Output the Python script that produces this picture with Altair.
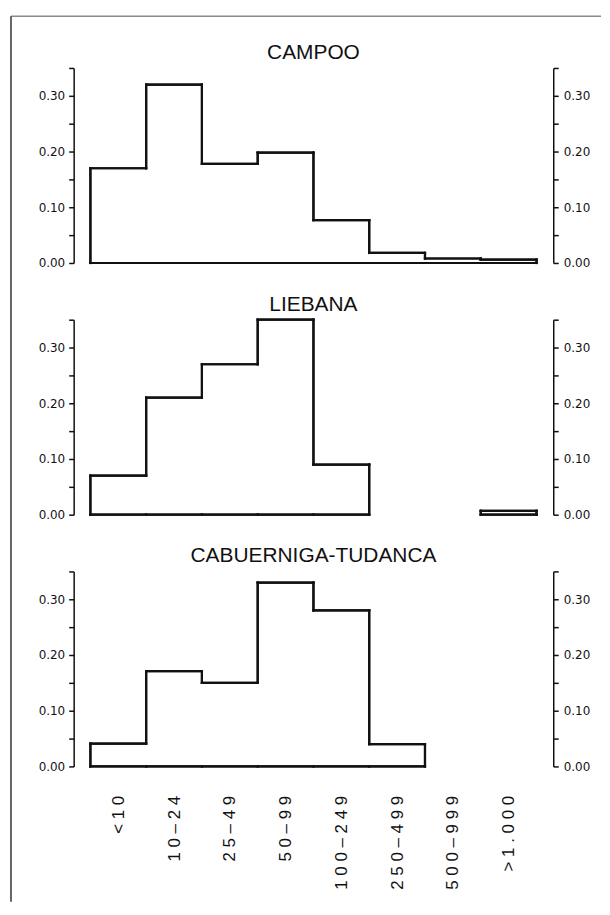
import json
import altair as alt
import pandas as pd

# ---- data ----
categories = ["<10", "10–24", "25–49", "50–99", "100–249", "250–499", "500–999", ">1.000"]
campoo = [0.17, 0.32, 0.178, 0.198, 0.077, 0.018, 0.008, 0.006]
liebana = [0.07, 0.21, 0.27, 0.35, 0.09, 0.0, 0.0, 0.007]
cabuerniga = [0.041, 0.171, 0.15, 0.33, 0.28, 0.04, 0.0, 0.0]
panel_titles = ["CAMPOO", "LIEBANA", "CABUERNIGA-TUDANCA"]
y_ticks = [0.0, 0.05, 0.10, 0.15, 0.20, 0.25, 0.30, 0.35]
label_positions = [i + 0.5 for i in range(len(categories))]


def outline(values):
    """Step outline of a histogram: tops, bottoms and vertical edges."""
    rows = []
    n = len(values)
    for i, v in enumerate(values):
        if v > 0:
            rows.append(dict(x=i, x2=i + 1, y=v, y2=v))
            rows.append(dict(x=i, x2=i + 1, y=0.0, y2=0.0))
    for e in range(n + 1):
        left = values[e - 1] if e > 0 else 0.0
        right = values[e] if e < n else 0.0
        if left != right:
            rows.append(dict(x=e, x2=e, y=min(left, right), y2=max(left, right)))
    return pd.DataFrame(rows)


W, H = 482, 196
xscale = alt.Scale(domain=[-0.3, 8.3], nice=False, zero=False)
yscale = alt.Scale(domain=[0, 0.35], nice=False, zero=True)
ylabel_expr = "round(datum.value*100) % 10 == 0 ? format(datum.value, '.2f') : ''"

spaced = [" ".join(list(c)) for c in categories]
xlabel_expr = json.dumps(spaced) + "[floor(datum.value)]"

axis_common = dict(
    values=y_ticks, labelExpr=ylabel_expr, grid=False, title=None,
    domainColor="#111", tickColor="#111", labelColor="#111",
    domainWidth=1.5, tickWidth=1.5, tickSize=5,
    labelFont="DejaVu Sans", labelFontSize=12,
)


def panel(values, title, show_x=False, frame=False):
    df = outline(values)
    if show_x:
        xaxis = alt.Axis(values=label_positions, labelExpr=xlabel_expr, labelAngle=270,
                         domain=False, ticks=False, tickSize=0, labelPadding=29,
                         labelFont="Liberation Sans", labelFontSize=17,
                         labelColor="#111", title=None, grid=False)
    else:
        xaxis = None
    base = alt.Chart(df)
    left = base.mark_rule(color="#111", strokeWidth=2.2, strokeCap="square").encode(
        x=alt.X("x:Q", scale=xscale, axis=xaxis),
        x2="x2:Q",
        y=alt.Y("y:Q", scale=yscale, axis=alt.Axis(orient="left", labelPadding=4, **axis_common)),
        y2="y2:Q",
    )
    right = base.mark_rule(color="#111", strokeWidth=2.2, strokeCap="square").encode(
        x=alt.X("x:Q", scale=xscale, axis=xaxis),
        x2="x2:Q",
        y=alt.Y("y:Q", scale=yscale, axis=alt.Axis(orient="right", labelPadding=5, **axis_common)),
        y2="y2:Q",
    )
    heading = alt.Chart(pd.DataFrame({"t": [title]})).mark_text(
        font="Liberation Sans", fontSize=21, color="#111", align="center",
        baseline="alphabetic",
    ).encode(text="t:N", x=alt.value(W / 2), y=alt.value(-9))
    layers = [left, right, heading]
    if frame:
        one = alt.Chart(pd.DataFrame({"k": [0]}))
        top = one.mark_rule(color="#8a8a8a", strokeWidth=1.5).encode(
            x=alt.value(-63), x2=alt.value(530), y=alt.value(-52))
        side = one.mark_rule(color="#333", strokeWidth=1.5).encode(
            x=alt.value(-63), y=alt.value(-52), y2=alt.value(838))
        layers += [top, side]
    return alt.layer(*layers).resolve_scale(y="independent").properties(width=W, height=H)


chart = alt.vconcat(
    panel(campoo, panel_titles[0], frame=True),
    panel(liebana, panel_titles[1]),
    panel(cabuerniga, panel_titles[2], show_x=True),
    spacing=57,
    bounds="flush",
).properties(
    padding={"left": 2, "top": 5, "right": 0, "bottom": 0},
    background="white",
).configure_view(stroke=None)

chart.save("out.html", embed_options={"renderer": "svg", "actions": False})
